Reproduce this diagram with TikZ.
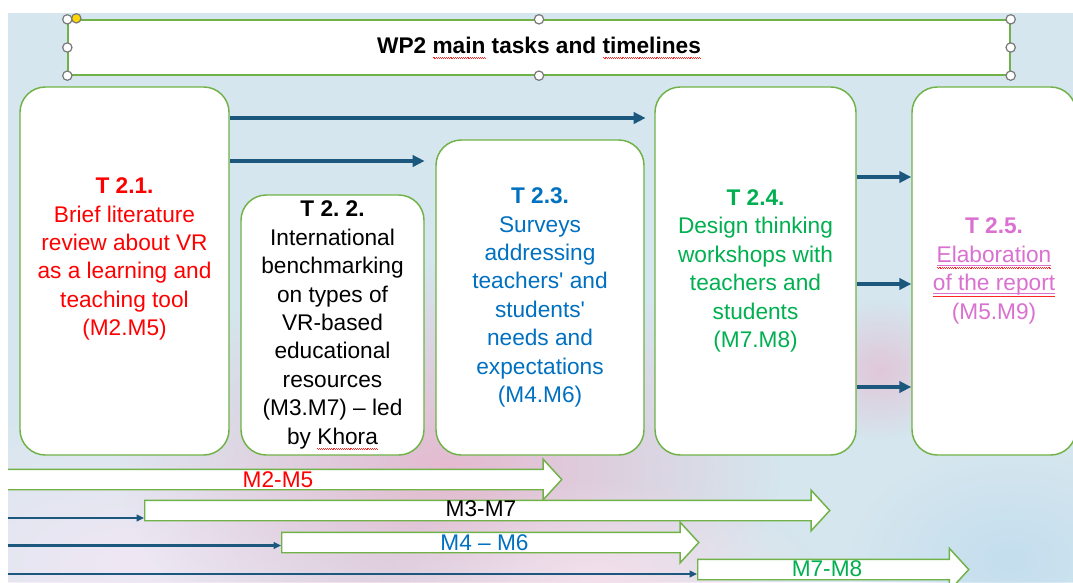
\documentclass[tikz,border=0pt]{standalone}
\usepackage{fontspec}
\setmainfont{Liberation Sans}
\usetikzlibrary{arrows.meta,shapes.arrows,fadings}

\definecolor{bgblue}{RGB}{213,230,238}
\definecolor{boxgreen}{RGB}{112,178,72}
\definecolor{flowblue}{RGB}{28,88,125}
\definecolor{tred}{RGB}{255,0,0}
\definecolor{tblue}{RGB}{0,112,192}
\definecolor{tgreen}{RGB}{0,176,80}
\definecolor{tpink}{RGB}{218,112,208}
\definecolor{handlegrey}{RGB}{120,120,120}
\definecolor{handleyellow}{RGB}{255,214,0}
\definecolor{cloudpink}{RGB}{229,186,208}
\definecolor{cloudlav}{RGB}{240,230,244}
\definecolor{cloudlight}{RGB}{244,224,236}
\definecolor{cloudblue}{RGB}{196,222,238}

% radial fading for the soft background clouds
\tikzfading[name=softblob, inner color=transparent!0, outer color=transparent!100]

% small wavy rule of the width of box 0, at a given depth
\newcommand\wavyrule[2]{\rlap{\color{red!85}\hbox to \wd0{\xleaders\hbox{%
  \rule[#1]{0.7pt}{0.35pt}\rule[#2]{0.7pt}{0.35pt}}\hfil}}}
% spell-check wave under a word
\newcommand\spellmark[1]{\setbox0\hbox{#1}\wavyrule{-3.2pt}{-3.7pt}\box0\relax}
% underlined words with a spell-check wave below
\newcommand\ulspell[1]{\setbox0\hbox{#1}%
  \rlap{\color{tpink}\rule[-2.4pt]{\wd0}{0.6pt}}\wavyrule{-4.1pt}{-4.6pt}\box0\relax}

\tikzset{
  taskbox/.style={draw=boxgreen, line width=1.1pt, fill=white, rounded corners=19pt,
    inner sep=0pt, align=center, font=\fontsize{17}{21.3}\selectfont},
  titlebox/.style={draw=boxgreen, line width=1pt, fill=white, inner sep=0pt,
    font=\fontsize{17}{20}\selectfont\bfseries},
  selhandle/.style={circle, draw=handlegrey, line width=0.9pt, fill=white,
    minimum size=7pt, inner sep=0pt},
  flow/.style={draw=flowblue, line width=2.5pt, -{Triangle[length=9pt,width=8.5pt]}},
  leadline/.style={draw=flowblue, line width=1.8pt, -{Triangle[length=5.5pt,width=5pt]}},
  spanarrow/.style={single arrow, draw=boxgreen, line width=1.1pt, fill=white,
    inner sep=0pt, inner ysep=7.125pt, single arrow head extend=7.5pt,
    single arrow tip angle=95, minimum width=0pt, anchor=tail},
  spanlabel/.style={font=\fontsize{17}{20}\selectfont, inner sep=0pt},
  cloud/.style={path fading=softblob},
}

\begin{document}
\frenchspacing
\begin{tikzpicture}[x=0.75pt,y=-0.75pt]
\useasboundingbox (0,0) rectangle (1073,582);
\fill[bgblue] (8,13) rectangle (1073,582);

\begin{scope}
\clip (8,13) rectangle (1073,582);

% soft background clouds
\fill[cloudlav, cloud] (130,565) ellipse [x radius=320, y radius=170];
\fill[cloudpink, cloud] (450,470) ellipse [x radius=330, y radius=210];
\fill[cloudlight, cloud] (600,580) ellipse [x radius=220, y radius=100];
\fill[cloudpink, cloud, opacity=0.7] (880,370) ellipse [x radius=80, y radius=70];
\fill[cloudblue, cloud] (1010,560) ellipse [x radius=160, y radius=110];

% title bar with its selection handles
\node[titlebox, minimum width=706.5pt, minimum height=41.25pt] (title) at (539,47.5)
  {WP2 \spellmark{main} tasks and \spellmark{timelines}};
\foreach \a [count=\i] in {north west,north,north east,west,east,south west,south,south east}
  \node[selhandle] (h\i) at (title.\a) {};
\node[selhandle, fill=handleyellow] (hy) at ([xshift=6.75pt,yshift=0.75pt]title.north west) {};

% task boxes
\node[taskbox, text=tred, minimum width=156.75pt, minimum height=276pt] (t1) at (124.5,271)
  {\textbf{T 2.1.}\\Brief literature\\review about VR\\as a learning and\\teaching tool\\(M2.M5)\\\mbox{}};
\node[taskbox, minimum width=137.25pt, minimum height=195pt] (t2) at (332.5,325)
  {\textbf{T 2. 2.}\\International\\benchmarking\\on types of\\VR-based\\educational\\resources\\(M3.M7) -- led\\by \spellmark{Khora}};
\node[taskbox, text=tblue, minimum width=156pt, minimum height=236.25pt] (t3) at (540,297.5)
  {\textbf{T 2.3.}\\Surveys\\addressing\\teachers\textquotesingle{} and\\students\textquotesingle\\needs and\\expectations\\(M4.M6)};
\node[taskbox, text=tgreen, minimum width=150.75pt, minimum height=276pt] (t4) at (755.5,271)
  {\textbf{T 2.4.}\\Design thinking\\workshops with\\teachers and\\students\\(M7.M8)};
\node[taskbox, text=tpink, minimum width=123pt, minimum height=276pt] (t5) at (994,271)
  {\textbf{T 2.5.}\\\ulspell{Elaboration}\\\ulspell{of the report}\\(M5.M9)};

% flow between tasks
\coordinate (r1) at (0,118);
\coordinate (r2) at (0,161);
\coordinate (r3) at (0,177);
\coordinate (r4) at (0,284);
\coordinate (r5) at (0,387);
\draw[flow, shorten >=6.5pt] (t1.east |- r1) -- (t4.west |- r1);
\draw[flow, shorten >=8pt] (t1.east |- r2) -- (t3.west |- r2);
\draw[flow] (t4.east |- r3) -- (t5.west |- r3);
\draw[flow] (t4.east |- r4) -- (t5.west |- r4);
\draw[flow] (t4.east |- r5) -- (t5.west |- r5);

% timeline bars
\node[spanarrow, minimum height=435.75pt] (a1) at (-20,479.5) {};
\node[spanarrow, minimum height=513.75pt] (a2) at (144,510.5) {};
\node[spanarrow, minimum height=312.75pt] (a3) at (281,542.5) {};
\node[spanarrow, minimum height=203.25pt, single arrow head extend=8.25pt] (a4) at (697,569.5) {};

\node[spanlabel, text=tred] (l1) at (278,480) {M2-M5};
\node[spanlabel] (l2) at (481,509) {M3-M7};
\node[spanlabel, text=tblue] (l3) at (484.5,543) {M4 -- M6};
\node[spanlabel, text=tgreen] (l4) at (827,569) {M7-M8};

% lead-in lines to the later bars
\coordinate (s2) at (-10,518);
\coordinate (s3) at (-10,545.5);
\coordinate (s4) at (-10,574);
\draw[leadline] (s2) -- (a2.tail |- s2);
\draw[leadline] (s3) -- (a3.tail |- s3);
\draw[leadline] (s4) -- (a4.tail |- s4);
\end{scope}
\end{tikzpicture}
\end{document}
